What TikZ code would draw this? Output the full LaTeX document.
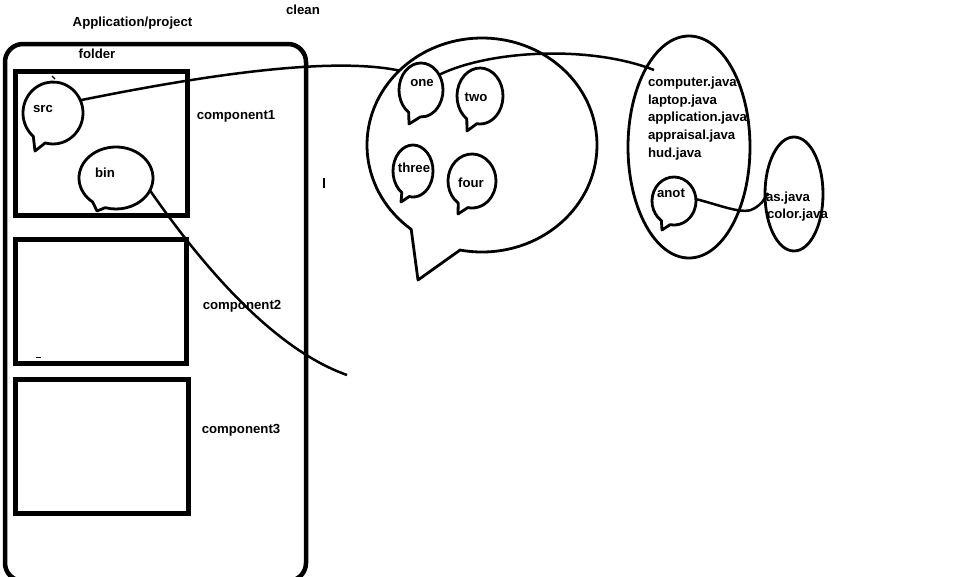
\documentclass[tikz,border=0pt]{standalone}
\usepackage{fontspec}
\setmainfont{Liberation Sans}
\usetikzlibrary{shapes.geometric}
\newcommand{\spbubble}[6]{%
  \draw[bubline] (#1.center) ++(#4:#2 and #3)
    arc[start angle=#4, end angle=#5+360, x radius=#2, y radius=#3]
    -- (#6) -- cycle;}
\begin{document}
\begin{tikzpicture}[x=1pt,y=-1pt,
  lbl/.style={font=\bfseries\fontsize{13.2}{15}\selectfont, inner sep=0pt, outer sep=0pt, text height=11pt, text depth=2pt},
  hole/.style={ellipse, draw=none, inner sep=0pt, outer sep=0pt},
  ring/.style={ellipse, draw, line width=2.8pt, inner sep=0pt, outer sep=0pt},
  bubline/.style={line width=2.8pt, line join=round},
  link/.style={line width=2.5pt},
  frame/.style={line width=4.5pt, rounded corners=18pt},
  compbox/.style={line width=5pt},
  straymark/.style={line width=1.2pt}]
\useasboundingbox (0,0) rectangle (971,576);

% frame and component boxes
\begin{scope}
\clip (0,0) rectangle (971,576);
\draw[frame] (5,44) rectangle (306,581);
\end{scope}
\draw[compbox] (15.5,71) rectangle (187.5,215);
\draw[compbox] (15,239.5) rectangle (186.5,363.5);
\draw[compbox] (15,379.5) rectangle (188,513.5);

% titles
\node[lbl] (title) at (132.5,22) {Application/project};
\node[lbl] (clean) at (303,10) {clean};
\node[lbl] (folder) at (97,54) {folder};
\node[lbl] (c1t) at (236,115) {component1};
\node[lbl] (c2t) at (242,305) {component2};
\node[lbl] (c3t) at (241,429) {component3};

% bubbles (named shapes + speech-bubble outlines)
\node[hole, minimum width=60pt, minimum height=62pt] (src) at (53,113) {};
\spbubble{src}{30}{31}{131}{105}{35,151}
\node[hole, minimum width=74pt, minimum height=62pt] (bin) at (116,178) {};
\spbubble{bin}{37}{31}{129}{107}{97,211}
\node[hole, minimum width=230pt, minimum height=214pt] (big) at (482,145) {};
\spbubble{big}{115}{107}{128}{101}{418,280}
\node[hole, minimum width=44pt, minimum height=54pt] (one) at (421,90) {};
\spbubble{one}{22}{27}{124}{92}{409,124}
\node[hole, minimum width=46pt, minimum height=56pt] (two) at (480,96) {};
\spbubble{two}{23}{28}{125}{98}{467,131}
\node[hole, minimum width=40pt, minimum height=52pt] (three) at (413,171) {};
\spbubble{three}{20}{26}{124}{101}{401,202}
\node[hole, minimum width=48pt, minimum height=54pt] (four) at (472,181) {};
\spbubble{four}{24}{27}{125}{100}{458,214}
\node[hole, minimum width=44pt, minimum height=48pt] (anot) at (674,201) {};
\spbubble{anot}{22}{24}{125}{100}{662,230}

% bubble texts
\node[lbl] (srct) at (43,108) {src};
\node[lbl] (bint) at (105,173) {bin};
\node[lbl] (onet) at (422,82) {one};
\node[lbl] (twot) at (476,97) {two};
\node[lbl] (threet) at (414,168) {three};
\node[lbl] (fourt) at (471,183) {four};
\node[lbl] (anott) at (671,193) {anot};

% file ellipses
\node[ring, minimum width=122pt, minimum height=222pt] (files) at (689,147) {};
\node[ring, minimum width=58pt, minimum height=114pt] (side) at (794,194) {};
\node[lbl, anchor=west] (f1) at (648,82) {computer.java};
\node[lbl, anchor=west] (f2) at (648,99.5) {laptop.java};
\node[lbl, anchor=west] (f3) at (648,117) {application.java};
\node[lbl, anchor=west] (f4) at (648,135) {appraisal.java};
\node[lbl, anchor=west] (f5) at (648,153) {hud.java};
\node[lbl, anchor=west] (g1) at (766,197) {as.java};
\node[lbl, anchor=west] (g2) at (767,214) {color.java};

% connectors
\coordinate (binend) at (347,375);
\coordinate (filesin) at (654,70);
\coordinate (sidein) at (768,193);
\draw[link] (src.25) .. controls (200,76) and (330,56) .. (big.138);
\draw[link] (bin.-20) .. controls (195,255) and (268,347) .. (binend);
\draw[link] (one.40) .. controls (490,50) and (590,45) .. (filesin);
\draw[link] (anot.5) .. controls (720,205) and (745,216) .. (755,208) .. controls (762,203) .. (sidein);

% stray marks
\draw[straymark] (52,76) -- (55,79);
\draw[straymark] (36,357.5) -- (41,357.5);
\draw[straymark] (324,178) -- (324,188);
\end{tikzpicture}
\end{document}
